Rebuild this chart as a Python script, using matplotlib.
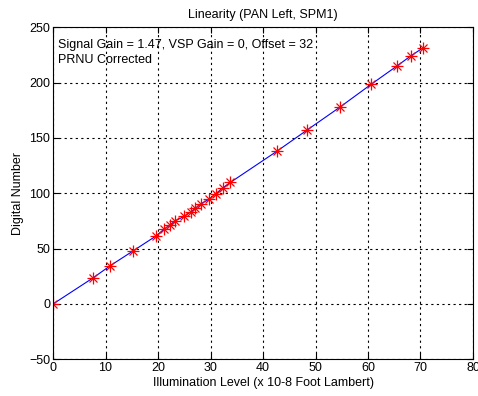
import matplotlib
matplotlib.use("Agg")
from matplotlib import pyplot as plt

# illumination level (x 10-8 foot lambert) and digital number
illum = [0.0, 7.6, 10.9, 15.3, 19.6, 21.2, 22.3, 23.2, 25.0, 26.2, 27.1, 28.2,
         29.7, 31.0, 32.3, 33.8, 42.7, 48.4, 54.6, 60.6, 65.5, 68.1, 70.5]
dn = [0.0, 23.5, 34.6, 48.1, 61.4, 67.8, 71.4, 75.0, 79.2, 83.1, 86.4, 90.6,
      94.6, 99.6, 104.8, 109.9, 138.2, 157.2, 177.7, 198.5, 215.0, 224.0, 231.5]

x_ticks = [0, 10, 20, 30, 40, 50, 60, 70, 80]
y_ticks = [-50, 0, 50, 100, 150, 200, 250]

plt.rcParams["font.family"] = ["Liberation Sans", "DejaVu Sans"]
plt.rcParams["font.size"] = 9

fig = plt.figure(figsize=(4.78, 3.96), dpi=100)
ax = fig.add_axes([0.111, 0.0927, 0.8785, 0.8383])

ax.plot(illum, dn, color="blue", linewidth=0.8)
# matlab style asterisk: a plus and a cross on top of each other
ax.plot(illum, dn, linestyle="none", marker="+", color="red",
        markersize=8, markeredgewidth=0.9)
ax.plot(illum, dn, linestyle="none", marker="x", color="red",
        markersize=6, markeredgewidth=0.9)

ax.set_xlim(0, 80)
ax.set_ylim(-50, 250)
ax.set_xticks(x_ticks)
ax.set_yticks(y_ticks)
ax.grid(True, color="black", linestyle=(0, (2, 3)), linewidth=0.8)
ax.tick_params(direction="in", top=True, right=True, length=4, pad=2)
for s in ax.spines.values():
    s.set_linewidth(0.8)

ax.set_title("Linearity (PAN Left, SPM1)", fontsize=9, pad=7)
ax.set_xlabel("Illumination Level (x 10-8 Foot Lambert)", labelpad=2)
ax.set_ylabel("Digital Number", labelpad=4)

ax.text(0.012, 0.965, "Signal Gain = 1.47, VSP Gain = 0, Offset = 32\nPRNU Corrected",
        transform=ax.transAxes, va="top", ha="left", linespacing=1.35)

fig.savefig("out.png", dpi=100)
